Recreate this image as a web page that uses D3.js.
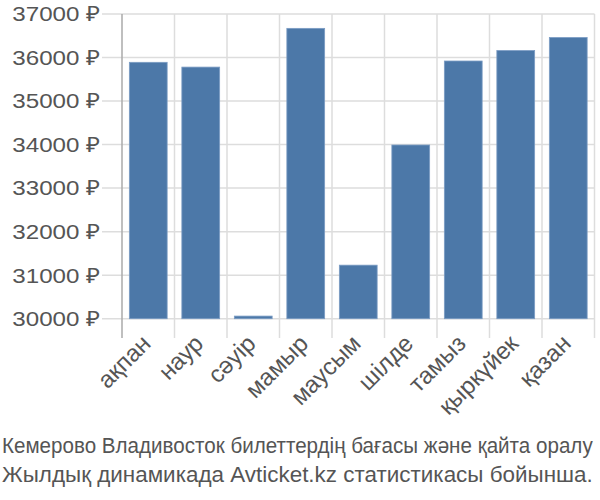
<!DOCTYPE html>
<html><head><meta charset="utf-8">
<script src="https://cdn.jsdelivr.net/npm/d3@7"></script>
<style>body{margin:0;background:#fff}svg{display:block}text{font-family:"Liberation Sans",Arial,sans-serif}</style>
</head><body>
<script>
const categories = ["ақпан","наур","сәуір","мамыр","маусым","шілде","тамыз","қыркүйек","қазан"];
const prices = [35890,35780,30060,36670,31230,33990,35920,36160,36460];
const yTicks = [30000,31000,32000,33000,34000,35000,36000,37000];
const captionLines = ["Кемерово Владивосток билеттердің бағасы және қайта оралу","Жылдық динамикада Avticket.kz статистикасы бойынша."];

const W=600,H=500;
const svg=d3.select("body").append("svg").attr("width",W).attr("height",H);
const x=d3.scaleBand().domain(categories).range([122,594.5]).paddingInner(0.28).paddingOuter(0.14);
const y=d3.scaleLinear().domain([30000,37000]).range([318.7,14]);

// horizontal grid
svg.append("g").selectAll("line").data(yTicks).join("line")
 .attr("x1",102).attr("x2",594.5).attr("y1",d=>y(d)).attr("y2",d=>y(d))
 .attr("stroke","#dddddd").attr("stroke-width",1.5);
// vertical grid at band boundaries
const bounds=categories.map(c=>x(c)-x.step()*x.paddingInner()/2).concat([x(categories[8])+x.bandwidth()+x.step()*x.paddingInner()/2]);
svg.append("g").selectAll("line").data(bounds.slice(1)).join("line")
 .attr("x1",d=>d).attr("x2",d=>d).attr("y1",14).attr("y2",338)
 .attr("stroke","#dddddd").attr("stroke-width",1.5);
// axis line
svg.append("line").attr("x1",122).attr("x2",122).attr("y1",14).attr("y2",338).attr("stroke","#aaaaaa").attr("stroke-width",1.5);

// bars
svg.append("g").selectAll("rect").data(prices).join("rect")
 .attr("x",(d,i)=>x(categories[i])).attr("width",x.bandwidth())
 .attr("y",d=>y(d)).attr("height",d=>y(30000)-y(d))
 .attr("fill","#4c78a8").attr("stroke","#7b9cc4").attr("stroke-width",0.8);

// y labels
svg.append("g").selectAll("text").data(yTicks).join("text")
 .attr("transform",d=>`translate(100,${y(d)}) scale(1.15,1)`)
 .attr("text-anchor","end").attr("dy","0.35em")
 .attr("font-size",21).attr("fill","#555").text(d=>d+" ₽");

// x labels
svg.append("g").selectAll("text").data(categories).join("text")
 .attr("transform",d=>`translate(${x(d)+x.bandwidth()/2+4},345) rotate(-45)`)
 .attr("text-anchor","end").attr("font-size",24).attr("fill","#555").text(d=>d);

// caption: each line scaled horizontally to the reference width
svg.append("g").selectAll("text").data(captionLines).join("text")
 .attr("font-size",21.5).attr("fill","#555").text(d=>d)
 .each(function(d,i){
   const w=this.getComputedTextLength();
   const s=591/w;
   d3.select(this).attr("transform",`translate(2,${453+i*29}) scale(${s},1)`);
 });
</script>
</body></html>
